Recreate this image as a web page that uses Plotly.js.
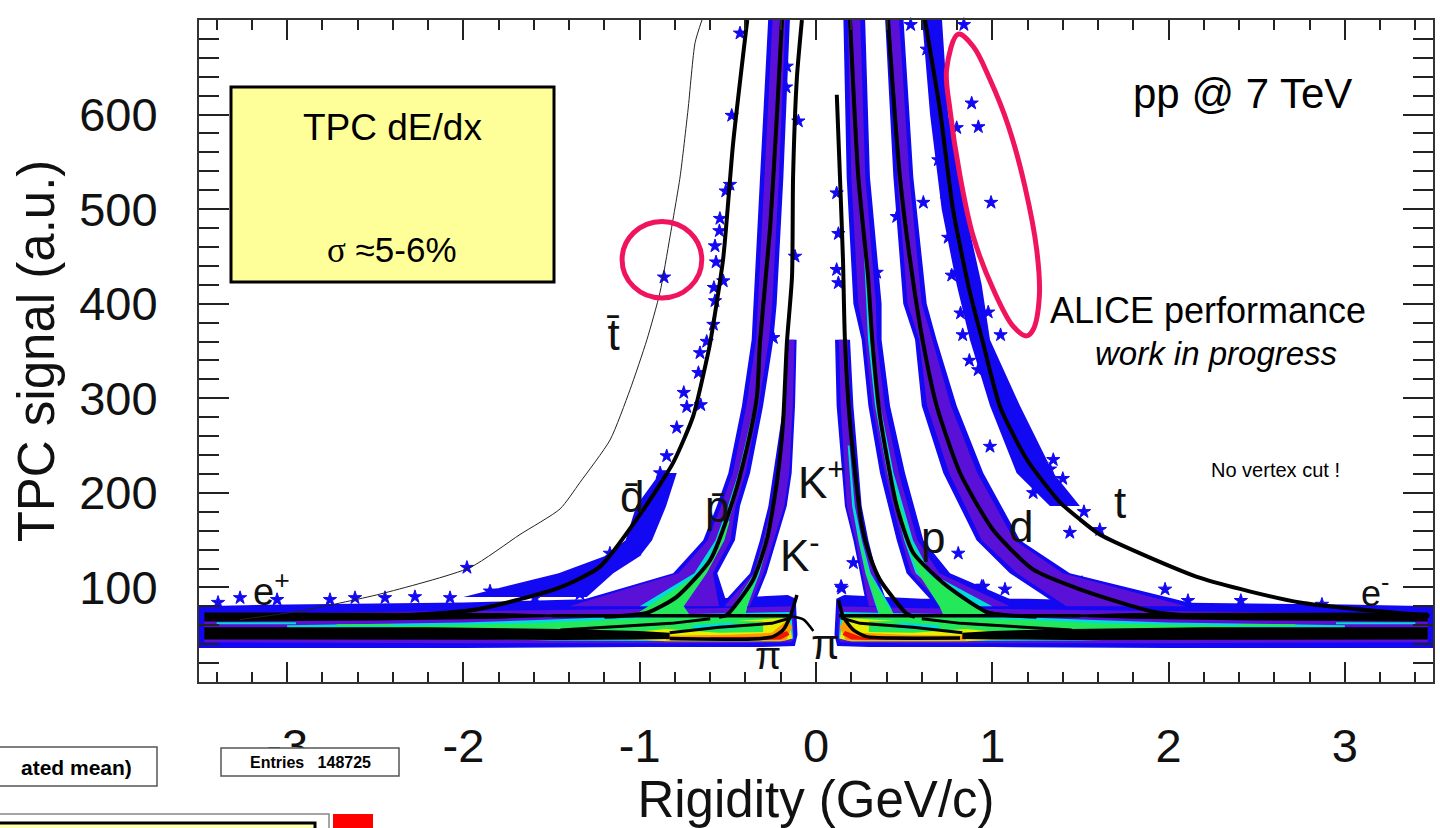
<!DOCTYPE html>
<html><head><meta charset="utf-8">
<script src="https://cdn.plot.ly/plotly-3.0.1.min.js"></script>
<style>html,body{margin:0;padding:0;background:#fff}#c{width:1440px;height:828px}</style></head>
<body><div id="c"></div>
<script>
const BLUE='#1208f2',PURPLE='#5a10d6',CYAN='#00dcd8',GREEN='#22e85a',YELLOW='#e6f000',ORANGE='#ff9a00',RED='#f01800',BLACK='#000';
const PINK='#f0145f';

/* --- ridge centre lines (rigidity, signal) --- */
const kPosX=[.118,.136,.153,.164,.193,.26,.306,.363,.516,.56];
const kPosY=[621,534,447,362,274,165,133,108,72,69];
const pPosX=[.193,.24,.295,.32,.363,.458,.55,.72,.97,1.25];
const pPosY=[700,534,429,359,281,186,137,105,74,69];
const dPosX=[.408,.476,.533,.607,.686,.817,1.004,1.231,1.497,1.92,2.3];
const dPosY=[700,534,447,359,291,221,161,119,98,74,68];
const tPosX=[.618,.703,.777,.873,.947,1.044,1.197,1.384,1.497,1.61,2.18,2.745,3.48];
const tPosY=[700,605,500,412,359,291,235,190,172,156,110,84,70];
const kNegX=[-.08,-.108,-.13,-.136,-.165,-.187,-.22,-.278,-.357,-.505,-.55];
const kNegY=[700,640,534,429,359,274,214,151,108,71,69];
const pNegX=[-.193,-.22,-.26,-.318,-.335,-.39,-.47,-.6,-.79,-.96,-1.2];
const pNegY=[700,605,481,359,302,249,193,129,90,73,69];
const dNegX=[-.39,-.47,-.527,-.6,-.62,-.697,-.81,-.98,-1.225,-1.452,-1.917,-2.4,-3.0];
const dNegY=[700,570,447,359,341,281,232,182,122,100,77,70,68];
const tNegX=[-.647,-.686,-.726,-.771,-.828,-.885,-.959,-1.055,-1.168,-1.339,-1.452,-1.679,-1.963,-2.473,-2.927,-3.267];
const tNegY=[700,676,605,534,471,412,362,309,256,211,183,156,121,93,75,66];
const piPosX=[.127,.155,.212,.287,.439,.817];
const piPosY=[87,69,55,48,46.5,46.5];
const piNegX=[-.108,-.147,-.187,-.244,-.357,-.83];
const piNegY=[92,69,55,48,45.5,46];
const elecNegX=[-.55,-.147,-.07,-.015];
const elecNegY=[70,69.5,66,54];
const upperPosX=[.13,.6,1.5];
const upperPosY=[70,70,70];
const upperNegX=[-.13,-.6,-1.5];
const upperNegY=[70,70,70];
const wedgeAX=[.6,.82,1.45];const wedgeAY=[67,62,55];
const wedgeBX=[.14,.25,.55,.83];const wedgeBY=[68,62,58,52];

/* --- band edges: y levels with left and right rigidity --- */
const protY=[705,534,400,362,292,221,150,115,80];
const protBL=[.155,.174,.212,.259,.297,.363,.458,.514,.684];
const protBR=[.278,.306,.372,.372,.42,.505,.609,.76,1.195];
const protPL=[.18,.2,.24,.278,.32,.39,.485,.54,.72];
const protPR=[.25,.28,.34,.345,.39,.47,.575,.7,1.1];
const protCY=[460,362,292,221,150,115,80];
const protCL=[.27,.295,.335,.405,.5,.565,.78];
const protCR=[.285,.315,.365,.44,.55,.65,1.0];
const protGY=[300,221,150,115,80,72];
const protGL=[.345,.415,.51,.58,.7,.72];
const protGR=[.35,.425,.535,.63,.9,.96];

const kaonY=[362,292,186,150,115,80];
const kaonBL=[.108,.117,.164,.212,.25,.287];
const kaonBR=[.193,.212,.259,.297,.344,.41];
const kaonPL=[.13,.14,.175,.225,.262,.30];
const kaonPR=[.18,.195,.245,.285,.33,.39];
const kaonCY=[250,186,150,115,80,72];
const kaonCL=[.18,.205,.24,.28,.34,.355];
const kaonCR=[.19,.22,.26,.31,.42,.44];
const kaonGY=[160,115,80,72];
const kaonGL=[.235,.285,.345,.36];
const kaonGR=[.24,.3,.41,.44];

const deutY=[705,534,400,362,292,221,150,115,80];
const deutBL=[.391,.439,.495,.562,.6,.722,.911,1.1,1.384];
const deutBR=[.495,.552,.628,.684,.798,.949,1.157,1.44,2.2];
const deutPL=[.42,.46,.52,.585,.63,.755,.94,1.14,1.42];
const deutPR=[.47,.53,.6,.66,.765,.915,1.125,1.4,2.1];

const tritY=[705,600,500,420,362,292,221,186];
const tritBL=[.6,.647,.713,.798,.873,.987,1.138,1.327];
const tritBR=[.713,.75,.845,.94,.987,1.157,1.346,1.497];

const apY=[705,534,400,362,292,221,186,150,115,80];
const apBL=[-.27,-.318,-.355,-.365,-.42,-.497,-.563,-.64,-.81,-1.45];
const apBR=[-.147,-.185,-.223,-.242,-.3,-.374,-.431,-.46,-.56,-.5];
const apPL=[-.245,-.293,-.33,-.34,-.395,-.472,-.538,-.615,-.78,-1.4];
const apPR=[-.172,-.21,-.248,-.267,-.325,-.399,-.456,-.485,-.585,-.55];
const apCY=[300,221,186,150,115,80];
const apCL=[-.34,-.44,-.5,-.57,-.69,-1.0];
const apCR=[-.325,-.42,-.47,-.53,-.63,-.78];
const apGY=[170,150,115,80,72];
const apGL=[-.5,-.55,-.66,-.95,-1.02];
const apGR=[-.49,-.52,-.62,-.75,-.72];

const kmY=[362,292,221,186,150,115,80];
const kmBL=[-.166,-.185,-.242,-.27,-.318,-.374,-.545];
const kmBR=[-.11,-.119,-.138,-.166,-.223,-.28,-.355];
const kmPL=[-.155,-.172,-.225,-.255,-.3,-.355,-.52];
const kmPR=[-.122,-.132,-.152,-.18,-.24,-.298,-.375];
const kmCY=[200,150,115,80,72];
const kmCL=[-.235,-.29,-.35,-.47,-.5];
const kmCR=[-.225,-.27,-.32,-.39,-.4];
const kmGY=[115,80,72];
const kmGL=[-.34,-.47,-.49];
const kmGR=[-.33,-.39,-.4];

const adY=[221,186,150,133,115,90];
const adBL=[-.884,-1.02,-1.08,-1.2,-1.46,-2.0];
const adBR=[-.79,-.85,-.93,-1.0,-1.15,-1.3];

/* --- horizontal relativistic-rise base (negative side; right side mirrors) --- */
const baseX=[-3.53,-3,-2,-1.2,-.6,-.16,-.115,-.105,-.12,-.3,-1,-2,-3,-3.53];
const baseY=[80,82,84,88,88,92,88,50,38,37,37,36,36,36];
const purpX=[-3.47,-2.5,-1.5,-.6,-.13,-.125,-.14,-.5,-2,-3.47];
const purpY=[72,74,76,78,80,46,42,41,41,42];
const cyanX=[-3.0,-2.0,-1.5,-.7,-.14,-.13,-.2,-.7,-1.5,-2.0,-3.0];
const cyanY=[60,63,66,72,74,46,43,43,44,46,56];
const greenX=[-2.4,-1.6,-.9,-.16,-.14,-.2,-.9,-1.6,-2.4];
const greenY=[59,62,68,71,47,44,44,49,57];
const yellowX=[-1.2,-.85,-.5,-.155,-.135,-.2,-.85,-1.2];
const yellowY=[50,56,64,68,46,43,43,47];
const coreX=[-.85,-.55,-.3,-.3,-.55,-.85];
const coreY=[58,65,64,53,52,56];
const cyanCoreX=[-.7,-.5,-.38,-.5,-.7];
const cyanCoreY=[60,63,59,56,57];
const orangeX=[-.85,-.5,-.25,-.16,-.135,-.17,-.28,-.85];
const orangeY=[49,50,52,66,58,44,43.5,44];
const redX=[-.6,-.25,-.165,-.15,-.2,-.3,-.6];
const redY=[47.5,48,54,50,45,44.5,45];
const blackUpX=[-3.47,-2.5,-1.8,-1.45,-1.45,-1.8,-2.5,-3.47];
const blackUpY=[73.5,73.5,73,71,69,67,65,64];
const blackLowX=[-3.47,-2.2,-1.45,-1.0,-.83,-.83,-1.0,-1.45,-3.47];
const blackLowY=[58,58,56,54,52,45.5,45,44.5,45];
const lineC1X=[-3.4,-2.95];const lineC1Y=[62,62];
const lineG1X=[-2.72,-2.4];const lineG1Y=[60,60];

/* --- isolated cluster points --- */
const outX=[-.431,-.478,-.488,-.512,-.545,-.548,-.573,-.567,-.526,-.579,-.573,-.582,-.62,-.862,.537,.839,.628,.883,.921,.993,.832,1.047,.798,.694,.741,.798,.977,.609,.458,.344,.117,.127,.117,.127,-.1,-.119,-.242,-.17,-.166,.807,.949,1.072,.212,.146,.987,1.346,1.232,1.44,-.75,-.79,-.884,-.658,-.667,-.733,-.654,-.847,-.904,-1.169,-1.017,-1.225,-1.98,-1.367,-3.267,-3.392,-3.057,-2.757,-2.615,-2.445,-2.275,-2.076,-1.849,-1.594,-1.339,1.98,2.87,2.11,2.41,1.713,1.509,.94,.142,1.327,1.384,1.61,.75,.77,.82,.87,.92,1.05,1.12,1.18,1.28,1.4,1.52];
const outY=[686,599,526,519,490,477,461,444,424,417,403,378,360,428,695,695,669,612,587,507,367,367,586,552,510,433,391,507,492,433,517,474,436,422,593,450,364,629,651,136,101,98,126,99,249,235,200,158,306,269,221,348,327,291,293,239,193,136,140,115,121,108,89,84,87,87,89,89,90,89,96,89,93,98,82,86,86,93,105,101,101,225,193,161,470,430,390,340,330,300,270,250,230,215,180];

/* --- annotation text --- */
const tickVals=[-3,-2,-1,0,1,2,3];
const yTicks=[100,200,300,400,500,600,700];

function loop(ys,l,r){return {x:l.concat(r.slice().reverse()),y:ys.concat(ys.slice().reverse())};}
const traces=[];
function poly(x,y,c){traces.push({type:'scatter',mode:'lines',x:x.concat(x[0]),y:y.concat(y[0]),fill:'toself',fillcolor:c,line:{width:0,color:c},hoverinfo:'skip',cliponaxis:false});}
function band(ys,l,r,c){const p=loop(ys,l,r);poly(p.x,p.y,c);}
const neg=a=>a.map(v=>-v);
function curve(x,y,w,c){traces.push({type:'scatter',mode:'lines',x:x,y:y,line:{width:w,color:c||BLACK,shape:'spline',smoothing:.6},hoverinfo:'skip'});}
function rl(x,y,w,c){traces.push({type:'scatter',mode:'lines',x:x,y:y,line:{width:w,color:c},hoverinfo:'skip'});}

// blue envelopes
poly(baseX,baseY,BLUE);poly(neg(baseX),baseY,BLUE);
band(tritY,tritBL,tritBR,BLUE);
band(deutY,deutBL,deutBR,BLUE);band(protY,protBL,protBR,BLUE);band(kaonY,kaonBL,kaonBR,BLUE);
band(apY,apBL,apBR,BLUE);band(kmY,kmBL,kmBR,BLUE);band(adY,adBL,adBR,BLUE);
traces.push({type:'scatter',mode:'markers',x:outX,y:outY,cliponaxis:false,hoverinfo:'skip',
  marker:{symbol:'star',size:10,color:BLUE,line:{width:1,color:BLUE}}});
// purple
poly(purpX,purpY,PURPLE);poly(neg(purpX),purpY,PURPLE);
band(deutY,deutPL,deutPR,PURPLE);band(protY,protPL,protPR,PURPLE);band(kaonY,kaonPL,kaonPR,PURPLE);
band(apY,apPL,apPR,PURPLE);band(kmY,kmPL,kmPR,PURPLE);
// cyan
band(protCY,protCL,protCR,CYAN);band(kaonCY,kaonCL,kaonCR,CYAN);band(apCY,apCL,apCR,CYAN);band(kmCY,kmCL,kmCR,CYAN);
poly(cyanX,cyanY,CYAN);poly(neg(cyanX),cyanY,CYAN);
// green
band(protGY,protGL,protGR,GREEN);band(kaonGY,kaonGL,kaonGR,GREEN);band(apGY,apGL,apGR,GREEN);band(kmGY,kmGL,kmGR,GREEN);
poly(greenX,greenY,GREEN);poly(neg(greenX),greenY,GREEN);
// hot core
poly(yellowX,yellowY,YELLOW);poly(neg(yellowX),yellowY,YELLOW);
poly(coreX,coreY,GREEN);poly(neg(coreX),coreY,GREEN);
poly(cyanCoreX,cyanCoreY,CYAN);poly(neg(cyanCoreX),cyanCoreY,CYAN);
poly(orangeX,orangeY,ORANGE);poly(neg(orangeX),orangeY,ORANGE);
poly(redX,redY,RED);poly(neg(redX),redY,RED);
// black
poly(blackUpX,blackUpY,BLACK);poly(neg(blackUpX),blackUpY,BLACK);
poly(blackLowX,blackLowY,BLACK);poly(neg(blackLowX),blackLowY,BLACK);
rl(lineC1X,lineC1Y,2,CYAN);rl(neg(lineC1X),lineC1Y,2,CYAN);
rl(lineG1X,lineG1Y,2,GREEN);rl(neg(lineG1X),lineG1Y,2,GREEN);
rl(upperPosX,upperPosY,3.5,BLACK);rl(upperNegX,upperNegY,3.5,BLACK);
rl(wedgeAX,wedgeAY,3,BLACK);rl(neg(wedgeAX),wedgeAY,3,BLACK);
rl(wedgeBX,wedgeBY,3,BLACK);rl(neg(wedgeBX),wedgeBY,3,BLACK);
curve(piPosX,piPosY,3.5);curve(piNegX,piNegY,3.5);curve(elecNegX,elecNegY,2.5);
curve(kPosX,kPosY,4);curve(pPosX,pPosY,4);curve(dPosX,dPosY,4);curve(tPosX,tPosY,4);
curve(kNegX,kNegY,4);curve(pNegX,pNegY,4);curve(dNegX,dNegY,4);
curve(tNegX,tNegY,1,'#222');

// pink ellipse
const ellX=[.807,.892,.987,1.091,1.185,1.252,1.267,1.233,1.195,1.119,1.006,.892,.817,.76,.741,.807];
const ellY=[685,672,637,588,524,457,408,373,366,376,415,471,535,605,648,685];
traces.push({type:'scatter',mode:'lines',x:ellX,y:ellY,line:{width:5,color:PINK,shape:'spline',smoothing:1},hoverinfo:'skip',cliponaxis:false});

const F='"Liberation Sans",Arial,sans-serif';
const L=199,W=1234,T=20,H=662;
const px=v=>(v-L)/W, py=v=>(T+H-v)/H;
function lab(x,y,t,s){return {xref:'x',yref:'y',x:x,y:y,text:t,showarrow:false,font:{family:F,size:s,color:'#111'},xanchor:'center',yanchor:'middle'};}
function ptxt(x,y,t,s,extra){return Object.assign({xref:'paper',yref:'paper',x:px(x),y:py(y),text:t,showarrow:false,font:{family:F,size:s,color:'#000'},xanchor:'center',yanchor:'middle'},extra||{});}
function rect(x0,y0,x1,y1,fill,lc,lw){return {type:'rect',xref:'paper',yref:'paper',x0:px(x0),x1:px(x1),y0:py(y0),y1:py(y1),fillcolor:fill,line:{color:lc,width:lw},layer:'above'};}

const annotations=[
 ptxt(392,128,'TPC dE/dx',37),
 ptxt(392,250,'<span style="font-family:\'Liberation Serif\',serif">σ</span> ≈5-6%',35),
 ptxt(1242,94,'pp @ 7 TeV',42),
 ptxt(1208,310,'ALICE performance',36),
 ptxt(1216,353,'<i>work in progress</i>',33),
 ptxt(1275,470,'No vertex cut !',20),
 lab(-1.146,367,'t\u0304',44),lab(-1.044,196,'d\u0304',44),lab(-.562,186,'p\u0304',44),
 lab(.034,214,'K<sup>+</sup>',44),lab(-.09,137,'K<sup>-</sup>',44),
 lab(.664,153,'p',44),lab(1.163,164,'d',44),lab(1.724,190,'t',44),
 lab(-3.086,98,'e<sup>+</sup>',38),lab(3.17,96,'e<sup>-</sup>',36),
 lab(-.27,27,'π',38),lab(.055,40,'π',42),
 ptxt(76,767,'<b>ated mean)</b>',21),
 ptxt(310,762,'<b>Entries   148725</b>',16)
];
const shapes=[
 {type:'circle',xref:'x',yref:'y',x0:-1.10,x1:-.648,y0:406,y1:487,line:{color:PINK,width:5},fillcolor:'rgba(0,0,0,0)',layer:'above'},
 rect(231,87,554,282,'#ffff99','#000',3),
 rect(-5,747,157,786,'#fff','#555',1.5),
 rect(221,748,399,776,'#fff','#555',1.5),
 rect(-5,814,329,832,'#fff','#888',1.5),
 rect(-5,823,315,835,'#ffffb0','#000',3),
 rect(333,814,373,832,'#f00','#f00',0)
];
// the yellow box must sit under its text but over the traces
const ax={linecolor:'#333',linewidth:2,mirror:'ticks',showgrid:false,zeroline:false,ticks:'inside',tickcolor:'#222',tickwidth:2};
const layout={
 width:1440,height:828,paper_bgcolor:'#fff',plot_bgcolor:'#fff',showlegend:false,
 margin:{l:L,r:1440-L-W,t:T,b:828-T-H,pad:0},
 font:{family:F,color:'#111'},
 xaxis:Object.assign({},ax,{range:[-3.5,3.5],tickvals:tickVals,ticktext:tickVals.map(String),ticklen:20,
   minor:{ticks:'inside',ticklen:10,dtick:.2,tick0:0,tickcolor:'#222',tickwidth:2,showgrid:false},
   tickfont:{family:F,size:47,color:'#111'},ticklabelstandoff:22,
   title:{text:'Rigidity (GeV/c)',font:{family:F,size:51,color:'#111'},standoff:10}}),
 yaxis:Object.assign({},ax,{range:[0,700],tickvals:yTicks,ticktext:yTicks.map(String),ticklen:30,
   minor:{ticks:'inside',ticklen:20,dtick:20,tick0:0,tickcolor:'#222',tickwidth:2,showgrid:false},
   tickfont:{family:F,size:47,color:'#111'},ticklabelstandoff:30,
   title:{text:'TPC signal (a.u.)',font:{family:F,size:51,color:'#111'},standoff:8}}),
 annotations:annotations,shapes:shapes
};
Plotly.newPlot('c',traces,layout,{displayModeBar:false,staticPlot:true});
</script></body></html>
